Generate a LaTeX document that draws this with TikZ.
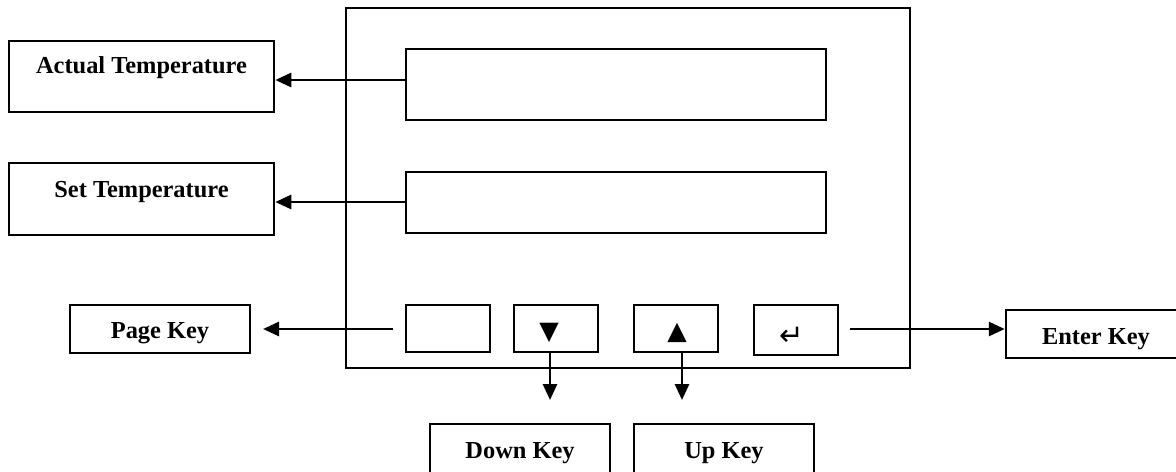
\documentclass[tikz,border=0pt]{standalone}
\usepackage{fontspec}
\setmainfont{Liberation Serif}
\newfontfamily\symfont{DejaVu Sans}
\usetikzlibrary{arrows.meta,fit}
\begin{document}
\begin{tikzpicture}[x=0.75pt,y=-0.75pt,
  box/.style={draw=black,line width=1.9pt,inner sep=0pt,fill=none},
  lbl/.style={font=\fontsize{18.3}{20}\selectfont\bfseries,inner sep=0pt,anchor=base},
  sym/.style={font=\symfont\fontsize{19}{20}\selectfont,inner sep=0pt},
  arr/.style={line width=2.1pt,-{Triangle[length=12pt,width=10.5pt]}}]
\useasboundingbox (0,0) rectangle (1176,471);
\clip (0,0) rectangle (1176,471);
% controller
\node[box,fit={(346,8) (910,368)}] (ctrl) {};
\node[box,fit={(406,49) (826,120)}] (disp1) {};
\node[box,fit={(406,172) (826,233)}] (disp2) {};
\node[box,fit={(406,305) (490,352)}] (bpage) {};
\node[box,fit={(514,305) (598,352)}] (bdown) {};
\node[box,fit={(634,305) (718,352)}] (bup) {};
\node[box,fit={(754,305) (838,355)}] (benter) {};
\node[sym] (tdown) at (549,333) {▼};
\node[sym] (tup) at (677,333) {▲};
\node[sym,font=\symfont\fontsize{22}{24}\selectfont] (tenter) at (792,336) {↵};
% labels
\node[box,fit={(9,41) (274,112)}] (act) {};
\node[lbl] (actT) at (141.5,73) {Actual Temperature};
\node[box,fit={(9,163) (274,235)}] (set) {};
\node[lbl] (setT) at (141.5,197) {Set Temperature};
\node[box,fit={(70,305) (250,353)}] (pagek) {};
\node[lbl] (pageT) at (160,338) {Page Key};
\node[box,fit={(1006,310) (1186,358)}] (enterk) {};
\node[lbl] (enterT) at (1096,344) {Enter Key};
\node[box,fit={(430,424) (610,490)}] (downk) {};
\node[lbl] (downT) at (520,458) {Down Key};
\node[box,fit={(634,424) (814,490)}] (upk) {};
\node[lbl] (upT) at (724,458) {Up Key};
% connectors
\coordinate (a1) at (406,80);
\draw[arr] (a1) -- (a1 -| act.east);
\coordinate (a2) at (406,202);
\draw[arr] (a2) -- (a2 -| set.east);
\coordinate (p1) at (393,329);
\coordinate (p2) at (263,329);
\draw[arr] (p1) -- (p2);
\coordinate (e1) at (850,329);
\draw[arr] (e1) -- (e1 -| enterk.west);
\coordinate (d1) at (550,352);
\coordinate (d2) at (550,400);
\draw[arr] (d1) -- (d2);
\coordinate (u1) at (682,352);
\coordinate (u2) at (682,400);
\draw[arr] (u1) -- (u2);
\end{tikzpicture}
\end{document}
